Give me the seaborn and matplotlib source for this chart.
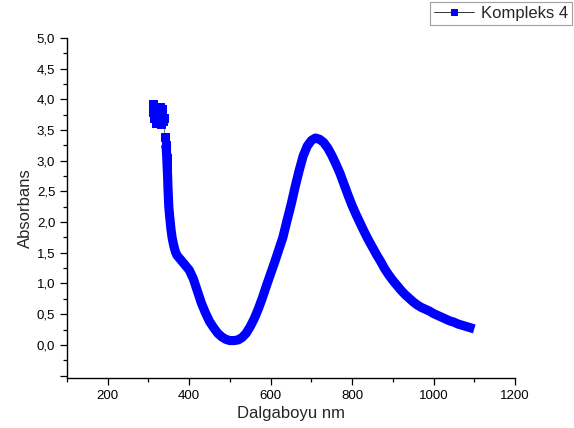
import numpy as np
import pandas as pd
import matplotlib
matplotlib.use("Agg")
import matplotlib.pyplot as plt
import seaborn as sb
from matplotlib.ticker import MultipleLocator, FuncFormatter

# wavelength (nm) and absorbance
noisy_nm = [310, 312, 314, 316, 318, 320, 322, 324, 326, 328, 330, 332, 334, 336, 338, 340, 342]
noisy_abs = [3.92, 3.80, 3.70, 3.88, 3.62, 3.75, 3.85, 3.66, 3.80, 3.88, 3.60, 3.72, 3.85, 3.65, 3.70, 3.39, 3.26]

drop_nm = [344, 345, 346, 347, 348, 349, 350, 352, 355, 358, 362, 366, 370, 375]
drop_abs = [3.18, 3.05, 2.90, 2.75, 2.55, 2.40, 2.25, 2.10, 1.90, 1.75, 1.62, 1.52, 1.46, 1.42]

main_nm = list(range(380, 1101, 10))
main_abs = [1.38, 1.30, 1.22, 1.08, 0.88, 0.68, 0.52, 0.38, 0.28, 0.19,
            0.13, 0.09, 0.07, 0.07, 0.08, 0.12, 0.19, 0.30, 0.43, 0.59,
            0.77, 0.97, 1.16, 1.35, 1.55, 1.75, 2.02, 2.28, 2.57, 2.84,
            3.08, 3.24, 3.33, 3.37, 3.35, 3.30, 3.21, 3.09, 2.95, 2.80,
            2.62, 2.44, 2.27, 2.12, 1.98, 1.84, 1.71, 1.59, 1.47, 1.36,
            1.24, 1.14, 1.05, 0.97, 0.89, 0.82, 0.76, 0.70, 0.65, 0.61,
            0.58, 0.55, 0.51, 0.48, 0.45, 0.42, 0.39, 0.37, 0.34, 0.32,
            0.30, 0.28, 0.26]

series_label = "Kompleks 4"

df = pd.DataFrame({
    "nm": noisy_nm + drop_nm + main_nm,
    "A": noisy_abs + drop_abs + main_abs,
})

sb.set_style("white")
plt.rcParams["font.family"] = ["Liberation Sans", "DejaVu Sans"]

fig = plt.figure(figsize=(5.74, 4.28), dpi=100)
ax = fig.add_axes([67 / 574, 1 - 378 / 428, (515 - 67) / 574, (378 - 38) / 428])

# thick band under the markers (the real spectrum is sampled every nm)
smooth = df[df.nm >= 342]
sb.lineplot(data=smooth, x="nm", y="A", ax=ax, color="#0000ff", lw=6.6,
            sort=False, legend=False, estimator=None,
            solid_capstyle="butt", solid_joinstyle="round")
noisy = df[df.nm <= 346]
sb.lineplot(data=noisy, x="nm", y="A", ax=ax, color="#777777", lw=0.7,
            sort=False, estimator=None, marker="s", markersize=6,
            markerfacecolor="#0000ff", markeredgecolor="#0000ff",
            label=series_label)

ax.set_xlim(100, 1200)
ax.set_ylim(-0.54, 5.0)
ax.xaxis.set_major_locator(MultipleLocator(200))
ax.xaxis.set_minor_locator(MultipleLocator(100))
ax.yaxis.set_major_locator(MultipleLocator(0.5))
ax.yaxis.set_minor_locator(MultipleLocator(0.25))
ax.xaxis.set_major_formatter(FuncFormatter(lambda v, p: "" if v < 150 else "%d" % v))
ax.yaxis.set_major_formatter(FuncFormatter(lambda v, p: "" if v < -0.1 else ("%.1f" % v).replace(".", ",")))
ax.tick_params(which="both", direction="out", colors="black", labelsize=9.5,
               width=0.9, bottom=True, left=True)
ax.tick_params(which="major", length=5)
ax.tick_params(which="minor", length=3)
for s in ["top", "right"]:
    ax.spines[s].set_visible(False)
for s in ["left", "bottom"]:
    ax.spines[s].set_color("black")
    ax.spines[s].set_linewidth(1.0)

ax.set_xlabel("Dalgaboyu nm", fontsize=12, labelpad=3)
ax.set_ylabel("Absorbans", fontsize=12, labelpad=3)

ax.get_legend().remove()
h, l = ax.get_legend_handles_labels()
leg = fig.legend(h[-1:], l[-1:], loc="upper right", bbox_to_anchor=(572 / 574, 1 - 2 / 428),
                 fontsize=12, frameon=True, fancybox=False, borderpad=0.25,
                 handlelength=2.4, handletextpad=0.4, borderaxespad=0)
leg.get_frame().set_edgecolor("#888888")
leg.get_frame().set_linewidth(0.8)
for ln in leg.get_lines():
    ln.set_color("#333333")
    ln.set_markersize(5)
    ln.set_markerfacecolor("#0000ff")
    ln.set_markeredgecolor("#0000ff")

fig.savefig("out.png", dpi=100, facecolor="white")
